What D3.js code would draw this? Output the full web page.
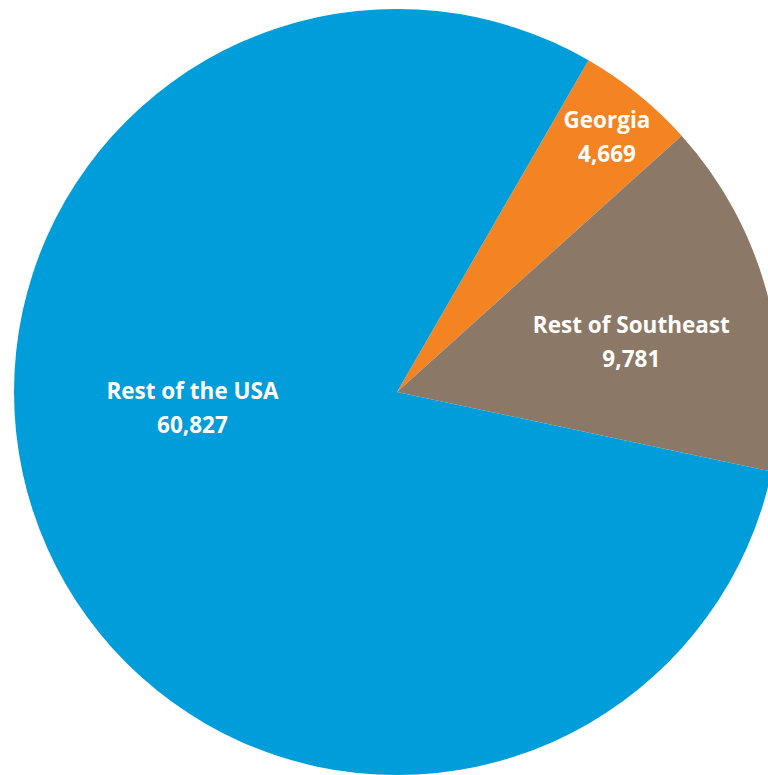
<!DOCTYPE html>
<html>
<head>
<meta charset="utf-8">
<script src="https://cdn.jsdelivr.net/npm/d3@7"></script>
<style>
  html, body { margin: 0; padding: 0; background: #ffffff; overflow: hidden; }
  svg { display: block; }
</style>
</head>
<body>
<svg id="chart" width="768" height="775"></svg>
<script>
// Data
const categories = ["Georgia", "Rest of Southeast", "Rest of the USA"];
const valueLabels = [4669, 9781, 60827];          // numbers printed on the slices
const sliceShares = [5, 15, 80];                  // slice sizes as drawn in the picture (%)
const colors = ["#F38421", "#8B7866", "#009DDB"];

const W = 768, H = 775;
const cx = 397, cy = 392, R = 383;

const svg = d3.select("#chart");
const g = svg.append("g").attr("transform", `translate(${cx},${cy})`);

const startDeg = 30;
const pie = d3.pie()
  .sort(null)
  .value(d => d.share)
  .startAngle(startDeg * Math.PI / 180)
  .endAngle(startDeg * Math.PI / 180 + 2 * Math.PI);

const data = categories.map((c, i) => ({ name: c, share: sliceShares[i], label: valueLabels[i], color: colors[i] }));
const arcs = pie(data);

const arc = d3.arc().innerRadius(0).outerRadius(R);

g.selectAll("path.slice")
  .data(arcs)
  .enter().append("path")
  .attr("class", "slice")
  .attr("d", arc)
  .attr("fill", d => d.data.color)
  .attr("stroke", "none");

// label placement (polar, relative to chart centre): [radius, angle in degrees clockwise from top]
const labelPolar = {
  "Georgia": [324, 40.4],
  "Rest of Southeast": [238, 79.9],
  "Rest of the USA": [206, 263.3]
};
const fmt = d3.format(",");
const labels = g.selectAll("g.lbl")
  .data(arcs)
  .enter().append("g")
  .attr("class", "lbl")
  .attr("transform", d => {
    const [r, a] = labelPolar[d.data.name];
    const t = a * Math.PI / 180;
    return `translate(${r * Math.sin(t)},${-r * Math.cos(t)})`;
  });

const font = "'Open Sans', Lato, sans-serif";
labels.append("text")
  .attr("text-anchor", "middle")
  .attr("y", -17)
  .attr("font-family", font)
  .attr("font-weight", "bold")
  .attr("font-size", 22.5)
  .attr("fill", "#ffffff")
  .text(d => d.data.name);

labels.append("text")
  .attr("text-anchor", "middle")
  .attr("y", 17)
  .attr("font-family", font)
  .attr("font-weight", "bold")
  .attr("font-size", 22.5)
  .attr("fill", "#ffffff")
  .text(d => fmt(d.data.label));
</script>
</body>
</html>
